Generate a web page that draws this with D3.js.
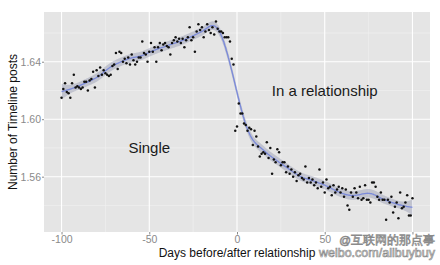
<!DOCTYPE html>
<html lang="en">
<head>
<meta charset="utf-8">
<style>
  body { margin: 0; background: #fff; }
  text { font-family: "Liberation Sans", Arial, sans-serif; }
</style>
</head>
<body>
<script src="https://cdn.jsdelivr.net/npm/d3@7"></script>
<script>
// daily averages, one per day starting at firstDay
const firstDay = -100;
const postsBefore = [
  1.615, 1.621, 1.625, 1.619, 1.618, 1.615, 1.625, 1.631, 1.622, 1.623,
  1.622, 1.621, 1.622, 1.626, 1.626, 1.620, 1.627, 1.628, 1.633, 1.622,
  1.634, 1.630, 1.636, 1.631, 1.634, 1.632, 1.631, 1.630, 1.631, 1.637,
  1.638, 1.646, 1.635, 1.647, 1.646, 1.640, 1.642, 1.639, 1.643, 1.638,
  1.645, 1.641, 1.638, 1.640, 1.643, 1.643, 1.654, 1.646, 1.645, 1.640,
  1.647, 1.653, 1.647, 1.650, 1.640, 1.650, 1.653, 1.648, 1.652, 1.653,
  1.651, 1.650, 1.645, 1.653, 1.655, 1.657, 1.654, 1.656, 1.653, 1.656,
  1.650, 1.655, 1.657, 1.664, 1.655, 1.657, 1.647, 1.661, 1.666, 1.662,
  1.664, 1.657, 1.661, 1.666, 1.662, 1.660, 1.664, 1.659, 1.668, 1.663,
  1.661, 1.661, 1.660, 1.657, 1.657, 1.657, 1.654, 1.642, 1.638, 1.592
];
const postsAfter = [
  1.595, 1.611, 1.604, 1.604,
  1.597, 1.596, 1.592, 1.594, 1.593, 1.582, 1.592, 1.588, 1.581, 1.574,
  1.576, 1.577, 1.576, 1.584, 1.573, 1.580, 1.562, 1.572, 1.570, 1.579,
  1.577, 1.568, 1.570, 1.570, 1.563, 1.567, 1.562, 1.565, 1.560, 1.563,
  1.557, 1.561, 1.562, 1.559, 1.558, 1.567, 1.556, 1.559, 1.556, 1.558,
  1.554, 1.556, 1.552, 1.565, 1.553, 1.556, 1.549, 1.558, 1.552, 1.553,
  1.547, 1.554, 1.549, 1.551, 1.553, 1.549, 1.552, 1.546, 1.551, 1.540,
  1.537, 1.549, 1.546, 1.552, 1.549, 1.545, 1.553, 1.544, 1.545, 1.554,
  1.544, 1.544, 1.542, 1.556, 1.556, 1.553, 1.546, 1.544, 1.549, 1.544,
  1.544, 1.530, 1.544, 1.542, 1.546, 1.535, 1.539, 1.542, 1.531, 1.549,
  1.538, 1.539, 1.542, 1.547, 1.533, 1.533, 1.545
];
const xLimits = [-110, 110];
const yLimits = [1.5215, 1.6746];
const xTicks = [-100, -50, 0, 50, 100];
const xTickLabels = ["-100", "-50", "0", "50", ""]; // last one sits under the watermark
const xMinor = [-75, -25, 25, 75];
const yTicks = [1.56, 1.60, 1.64];
const yMinor = [1.54, 1.58, 1.62, 1.66];
const notes = [
  {day: -50, value: 1.58, label: "Single"},
  {day: 50, value: 1.62, label: "In a relationship"}
];

const W = 440, H = 265;
const panel = {left: 44, right: 430, top: 12, bottom: 232};

const posts = postsBefore.concat(postsAfter);
const data = posts.map((v, i) => ({day: firstDay + i, value: v}));

const x = d3.scaleLinear().domain(xLimits).range([panel.left, panel.right]);
const y = d3.scaleLinear().domain(yLimits).range([panel.bottom, panel.top]);

// local quadratic loess with tricube weights, like geom_smooth
function loess(xs, ys, span, at) {
  const n = xs.length, q = Math.max(3, Math.floor(span * n));
  return at.map(x0 => {
    const dist = xs.map(v => Math.abs(v - x0));
    let h = dist.slice().sort((a, b) => a - b)[q - 1] * 1.0001;
    const w = dist.map(d => d < h ? Math.pow(1 - Math.pow(d / h, 3), 3) : 0);
    const S = [[0,0,0],[0,0,0],[0,0,0]];
    const rows = xs.map(v => { const u = (v - x0) / h; return [1, u, u * u]; });
    rows.forEach((r, i) => {
      for (let a = 0; a < 3; a++) for (let b = 0; b < 3; b++) S[a][b] += w[i] * r[a] * r[b];
    });
    const inv = invert3(S);
    const l = rows.map((r, i) => w[i] * (inv[0][0] * r[0] + inv[0][1] * r[1] + inv[0][2] * r[2]));
    return {x: x0, fit: d3.sum(l, (li, i) => li * ys[i]), ss: d3.sum(l, li => li * li), l: l};
  });
}
function invert3(m) {
  const [a, b, c] = m[0], [d, e, f] = m[1], [g, hh, k] = m[2];
  const A = e * k - f * hh, B = -(d * k - f * g), C = d * hh - e * g;
  const det = a * A + b * B + c * C;
  return [
    [A / det, -(b * k - c * hh) / det, (b * f - c * e) / det],
    [B / det, (a * k - c * g) / det, -(a * f - c * d) / det],
    [C / det, -(a * hh - b * g) / det, (a * e - b * d) / det]
  ];
}

const xs = data.map(d => d.day), ys = data.map(d => d.value);
const span = 0.2;
const selfFit = loess(xs, ys, span, xs);
const rss = d3.sum(selfFit, (f, i) => (ys[i] - f.fit) ** 2);
const trace = d3.sum(selfFit, (f, i) => f.l[i]);
const sigma = Math.sqrt(rss / (xs.length - trace));
const smooth = loess(xs, ys, span, d3.range(-100, 100.01, 0.5))
  .map(f => ({x: f.x, fit: f.fit, se: sigma * Math.sqrt(f.ss)}));

const svg = d3.select("body").append("svg").attr("width", W).attr("height", H);

// panel background and grid
svg.append("rect")
  .attr("x", panel.left).attr("y", panel.top)
  .attr("width", panel.right - panel.left).attr("height", panel.bottom - panel.top)
  .attr("fill", "#e5e5e5");

const grid = svg.append("g");
grid.selectAll(".xminor").data(xMinor).enter().append("line")
  .attr("x1", d => x(d)).attr("x2", d => x(d)).attr("y1", panel.top).attr("y2", panel.bottom)
  .attr("stroke", "#f2f2f2").attr("stroke-width", 0.6);
grid.selectAll(".yminor").data(yMinor).enter().append("line")
  .attr("y1", d => y(d)).attr("y2", d => y(d)).attr("x1", panel.left).attr("x2", panel.right)
  .attr("stroke", "#f2f2f2").attr("stroke-width", 0.6);
grid.selectAll(".xmajor").data(xTicks).enter().append("line")
  .attr("x1", d => x(d)).attr("x2", d => x(d)).attr("y1", panel.top).attr("y2", panel.bottom)
  .attr("stroke", "#fff").attr("stroke-width", 1.1);
grid.selectAll(".ymajor").data(yTicks).enter().append("line")
  .attr("y1", d => y(d)).attr("y2", d => y(d)).attr("x1", panel.left).attr("x2", panel.right)
  .attr("stroke", "#fff").attr("stroke-width", 1.1);

// confidence band and smooth line
svg.append("path")
  .datum(smooth)
  .attr("fill", "#8d90ad").attr("fill-opacity", 0.4)
  .attr("d", d3.area().x(d => x(d.x)).y0(d => y(d.fit - 1.97 * d.se)).y1(d => y(d.fit + 1.97 * d.se)));
svg.append("path")
  .datum(smooth)
  .attr("fill", "none").attr("stroke", "#6f80dc").attr("stroke-width", 1.3).attr("stroke-opacity", 0.85)
  .attr("d", d3.line().x(d => x(d.x)).y(d => y(d.fit)));

// points
svg.append("g").selectAll("circle").data(data).enter().append("circle")
  .attr("cx", d => x(d.day)).attr("cy", d => y(d.value)).attr("r", 1.25)
  .attr("fill", "#111");

// annotations
svg.selectAll(".note").data(notes).enter().append("text")
  .attr("x", d => x(d.day)).attr("y", d => y(d.value)).attr("dy", "0.35em")
  .attr("text-anchor", "middle").attr("font-size", 15).attr("fill", "#1a1a1a")
  .text(d => d.label);

// axes
const xAxis = svg.append("g")
  .attr("transform", "translate(0," + panel.bottom + ")")
  .call(d3.axisBottom(x).tickValues(xTicks).tickSize(2.5).tickPadding(1.5)
    .tickFormat((d, i) => xTickLabels[i]));
const yAxis = svg.append("g")
  .attr("transform", "translate(" + panel.left + ",0)")
  .call(d3.axisLeft(y).tickValues(yTicks).tickSize(2).tickPadding(1).tickFormat(d3.format(".2f")));
[xAxis, yAxis].forEach(g => {
  g.select(".domain").remove();
  g.selectAll(".tick line").attr("stroke", "#8a8a8a");
  g.selectAll(".tick text").attr("fill", "#8a8a8a").attr("font-size", 10.5)
    .attr("font-family", "'Liberation Sans', Arial, sans-serif");
});

// axis titles
svg.append("text")
  .attr("x", x(0)).attr("y", 257)
  .attr("text-anchor", "middle").attr("font-size", 12).attr("fill", "#111")
  .text("Days before/after relationship");
svg.append("text")
  .attr("transform", "translate(13," + ((panel.top + panel.bottom) / 2) + ") rotate(-90)")
  .attr("dy", "0.35em")
  .attr("text-anchor", "middle").attr("font-size", 12).attr("fill", "#111")
  .text("Number of Timeline posts");

// watermark
svg.append("text")
  .attr("x", 435).attr("y", 244).attr("text-anchor", "end")
  .attr("font-family", "'Noto Sans CJK SC', sans-serif").attr("font-size", 11.5)
  .attr("fill", "#fff").attr("stroke", "#8a8a8a").attr("stroke-width", 0.7)
  .text("@互联网的那点事");
svg.append("text")
  .attr("x", 435).attr("y", 257).attr("text-anchor", "end")
  .attr("font-size", 12.5)
  .attr("fill", "#fff").attr("stroke", "#8a8a8a").attr("stroke-width", 0.7)
  .text("weibo.com/alibuybuy");
</script>
</body>
</html>
